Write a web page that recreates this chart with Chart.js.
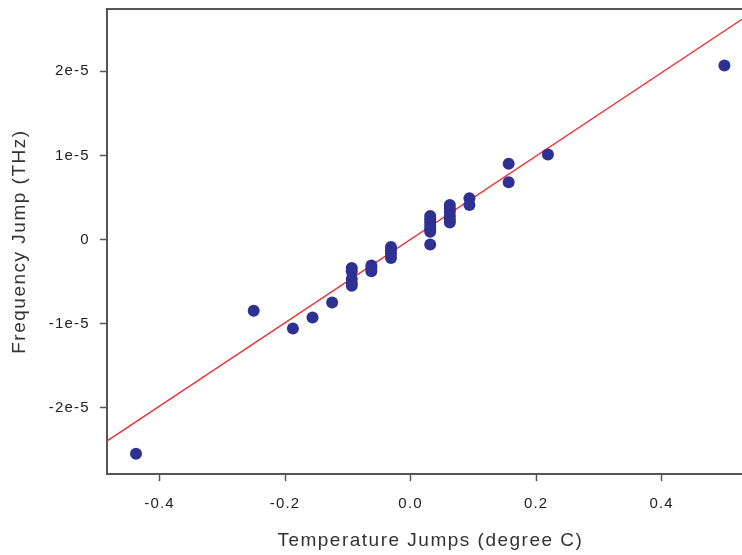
<!DOCTYPE html>
<html>
<head>
<meta charset="utf-8">
<script src="https://cdn.jsdelivr.net/npm/chart.js@4.4.0/dist/chart.umd.min.js"></script>
<style>
  html, body { margin: 0; padding: 0; background: #fff; }
  #wrap { width: 742px; height: 555px; }
</style>
</head>
<body>
<div id="wrap"><canvas id="jumpChart"></canvas></div>
<script>
// temperature jumps (degree C) and frequency jumps (THz)
var tempJumps = [
  -0.4375, -0.25, -0.1875, -0.15625, -0.125,
  -0.09375, -0.09375, -0.09375, -0.09375, -0.09375,
  -0.0625, -0.0625, -0.0625,
  -0.03125, -0.03125, -0.03125, -0.03125,
  0.03125, 0.03125, 0.03125, 0.03125, 0.03125, 0.03125, 0.03125,
  0.0625, 0.0625, 0.0625, 0.0625, 0.0625, 0.0625,
  0.09375, 0.09375,
  0.15625, 0.15625, 0.21875, 0.5
];
var freqJumps = [
  -2.55e-5, -0.85e-5, -1.06e-5, -0.93e-5, -0.75e-5,
  -0.34e-5, -0.38e-5, -0.47e-5, -0.52e-5, -0.55e-5,
  -0.31e-5, -0.34e-5, -0.38e-5,
  -0.09e-5, -0.13e-5, -0.17e-5, -0.22e-5,
  0.28e-5, 0.24e-5, 0.20e-5, 0.16e-5, 0.12e-5, 0.09e-5, -0.06e-5,
  0.41e-5, 0.37e-5, 0.33e-5, 0.28e-5, 0.24e-5, 0.20e-5,
  0.49e-5, 0.41e-5,
  0.90e-5, 0.68e-5, 1.01e-5, 2.07e-5
];

// regression line end points
var fitX = [-0.484, 0.528];
var fitY = [-2.40e-5, 2.62e-5];

var xTicks = [-0.4, -0.2, 0.0, 0.2, 0.4];
var xTickLabels = ["-0.4", "-0.2", "0.0", "0.2", "0.4"];
var yTicks = [-2e-5, -1e-5, 0, 1e-5, 2e-5];
var yTickLabels = ["-2e-5", "-1e-5", "0", "1e-5", "2e-5"];

var axisColor = "#555555";
var textColor = "#222222";
var fontFamily = "'Liberation Sans', Arial, sans-serif";

var points = tempJumps.map(function (t, i) { return { x: t, y: freqJumps[i] }; });
var fitLine = fitX.map(function (t, i) { return { x: t, y: fitY[i] }; });

function labelFor(values, labels) {
  return function (v) {
    for (var i = 0; i < values.length; i++) {
      if (Math.abs(values[i] - v) < 1e-9) return labels[i];
    }
    return "";
  };
}

// axis titles are spaced a bit wider than tick labels
// (x title sits a little right of the visible plot's centre)
var origDrawTitle = Chart.Scale.prototype.drawTitle;
Chart.Scale.prototype.drawTitle = function () {
  var ctx = this.ctx, old = ctx.letterSpacing;
  ctx.save();
  if (this.isHorizontal()) ctx.translate(6, 0);
  ctx.letterSpacing = "1.5px";
  origDrawTitle.apply(this, arguments);
  ctx.restore();
  ctx.letterSpacing = old;
};

// a little letter spacing, like the original
var spacing = {
  id: "spacing",
  beforeUpdate: function (c) { c.ctx.letterSpacing = "1.2px"; },
  beforeDraw: function (c) { c.ctx.letterSpacing = "1.2px"; }
};

// top frame line
var topLine = {
  id: "topLine",
  afterDraw: function (c) {
    var ctx = c.ctx, a = c.chartArea;
    ctx.save();
    ctx.strokeStyle = axisColor;
    ctx.lineWidth = 2;
    ctx.beginPath();
    ctx.moveTo(a.left - 1, a.top);
    ctx.lineTo(a.right, a.top);
    ctx.stroke();
    ctx.restore();
  }
};

var chart = new Chart(document.getElementById("jumpChart"), {
  type: "scatter",
  data: {
    datasets: [
      {
        data: points,
        backgroundColor: "#2E3192",
        borderWidth: 0,
        pointRadius: 6,
        pointHoverRadius: 6,
        order: 0
      },
      {
        type: "line",
        data: fitLine,
        borderColor: "#EE2A2A",
        borderWidth: 1.3,
        pointRadius: 0,
        fill: false,
        order: 1
      }
    ]
  },
  options: {
    responsive: true,
    maintainAspectRatio: false,
    animation: false,
    layout: { autoPadding: false, padding: { top: 9, right: 0, left: 0, bottom: 0 } },
    plugins: {
      legend: { display: false },
      tooltip: { enabled: false }
    },
    scales: {
      x: {
        type: "linear",
        min: -0.484,
        max: 0.528,
        afterBuildTicks: function (s) { s.ticks = xTicks.map(function (v) { return { value: v }; }); },
        afterFit: function (s) { s.paddingLeft = 0; s.paddingRight = 0; },
        grid: { drawOnChartArea: false, drawTicks: true, tickLength: 7, color: axisColor, tickWidth: 1.5 },
        border: { display: true, color: axisColor, width: 2 },
        ticks: {
          padding: 14,
          color: textColor,
          font: { family: fontFamily, size: 15 },
          maxRotation: 0,
          callback: labelFor(xTicks, xTickLabels)
        },
        title: {
          display: true,
          text: "Temperature Jumps (degree C)",
          color: "#333333",
          font: { family: fontFamily, size: 19 },
          padding: { top: 2, bottom: 3 }
        }
      },
      y: {
        type: "linear",
        min: -2.794e-5,
        max: 2.742e-5,
        afterBuildTicks: function (s) { s.ticks = yTicks.map(function (v) { return { value: v }; }); },
        afterFit: function (s) { s.paddingTop = 0; s.paddingBottom = 0; },
        grid: { drawOnChartArea: false, drawTicks: true, tickLength: 7, color: axisColor, tickWidth: 1.5 },
        border: { display: true, color: axisColor, width: 2 },
        ticks: {
          padding: 10,
          color: textColor,
          font: { family: fontFamily, size: 15 },
          callback: labelFor(yTicks, yTickLabels)
        },
        title: {
          display: true,
          text: "Frequency Jump (THz)",
          color: "#333333",
          font: { family: fontFamily, size: 19 },
          padding: { top: 8, bottom: 8 }
        }
      }
    }
  },
  plugins: [spacing, topLine]
});
</script>
</body>
</html>
